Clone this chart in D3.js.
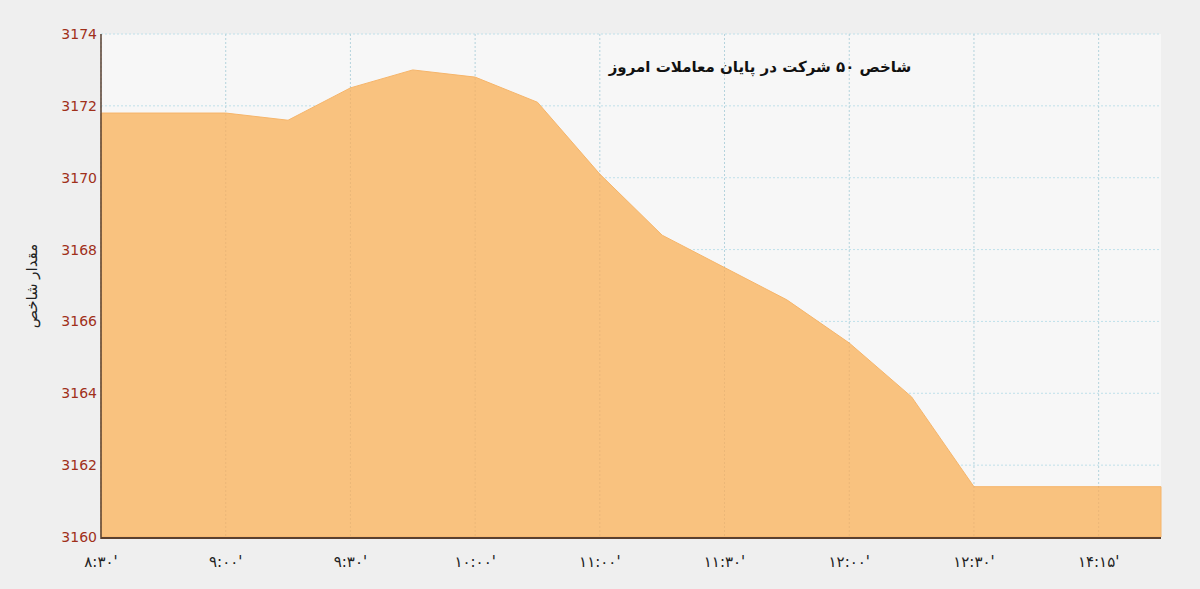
<!DOCTYPE html><html><head><meta charset="utf-8"><script src="https://cdn.jsdelivr.net/npm/d3@7"></script>
<style>body{margin:0;background:#efefef;font-family:"DejaVu Sans",sans-serif}</style></head><body><svg id="c" width="1200" height="589"></svg>
<script>
const xPos=[0,1,1.5,2,2.5,3,3.5,4,4.5,5,5.5,6,6.5,7,8.5];
const values=[3171.8,3171.8,3171.6,3172.5,3173.0,3172.8,3172.1,3170.1,3168.4,3167.5,3166.6,3165.4,3163.9,3161.4,3161.4];
const xTickLabels=["۸:۳۰'","۹:۰۰'","۹:۳۰'","۱۰:۰۰'","۱۱:۰۰'","۱۱:۳۰'","۱۲:۰۰'","۱۲:۳۰'","۱۴:۱۵'"];
const yTicks=[3160,3162,3164,3166,3168,3170,3172,3174];
const svg=d3.select("#c");
const L=101,R=1161,T=34,B=537;
const x=d3.scaleLinear().domain([0,8.5]).range([L,R]);
const y=d3.scaleLinear().domain([3160,3174]).range([B,T]);
svg.append("rect").attr("x",L).attr("y",T).attr("width",R-L).attr("height",B-T).attr("fill","#f7f7f7");
const g=svg.append("g");
yTicks.forEach(t=>g.append("line").attr("x1",L).attr("x2",R).attr("y1",y(t)).attr("y2",y(t)).attr("stroke","#bfe0ea").attr("stroke-dasharray","2,2"));
d3.range(9).forEach(i=>g.append("line").attr("x1",x(i)).attr("x2",x(i)).attr("y1",T).attr("y2",B).attr("stroke","#bfe0ea").attr("stroke-dasharray","2,2"));
const pts=xPos.map((p,i)=>[p,values[i]]);
svg.append("path").datum(pts).attr("d",d3.area().x(d=>x(d[0])).y0(B).y1(d=>y(d[1]))).attr("fill","#f9c27f").attr("stroke","#f6b56a").attr("stroke-width",1);
d3.range(9).forEach(i=>svg.append("line").attr("x1",x(i)).attr("x2",x(i)).attr("y1",T).attr("y2",B).attr("stroke","#000").attr("stroke-opacity",0.06).attr("stroke-dasharray","2,2"));
svg.append("line").attr("x1",L).attr("x2",R).attr("y1",B+1).attr("y2",B+1).attr("stroke","#5a4030").attr("stroke-width",2);
svg.append("line").attr("x1",L).attr("x2",L).attr("y1",T).attr("y2",B+2).attr("stroke","#5a4030").attr("stroke-width",1.5);
yTicks.forEach(t=>svg.append("text").attr("x",L-4).attr("y",y(t)+5).attr("text-anchor","end").attr("font-size",14).attr("fill","#a0301a").text(t));
xTickLabels.forEach((s,i)=>svg.append("text").attr("x",x(i)).attr("y",567).attr("text-anchor","middle").attr("font-size",15).attr("fill","#222").text(s));
svg.append("text").attr("transform","translate(37,286) rotate(-90)").attr("text-anchor","middle").attr("font-size",15).attr("fill","#222").text("مقدار شاخص");
svg.append("text").attr("x",760).attr("y",72).attr("text-anchor","middle").attr("font-size",15).attr("font-weight","bold").attr("fill","#111").text("شاخص ۵۰ شرکت در پایان معاملات امروز");
</script></body></html>
